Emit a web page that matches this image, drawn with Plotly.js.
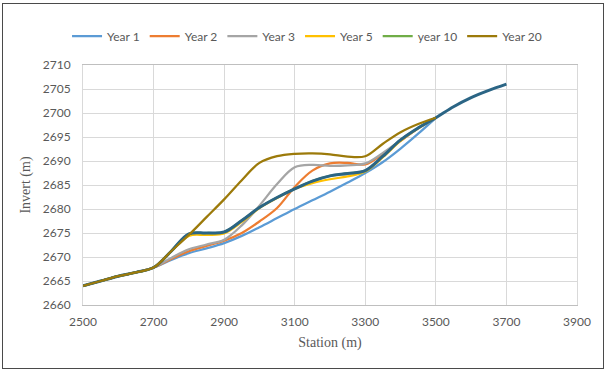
<!DOCTYPE html>
<html>
<head>
<meta charset="utf-8">
<script src="https://cdn.plot.ly/plotly-3.0.1.min.js"></script>
<style>
  html, body { margin: 0; padding: 0; background: #fff; }
  #frame { position: absolute; left: 2px; top: 3px; width: 600px; height: 364px; border: 1.5px solid #4a4a4a; }
  #chart { position: absolute; left: 0; top: 0; width: 608px; height: 372px; }
</style>
</head>
<body>
<div id="chart"></div>
<div id="frame"></div>
<script>
// Station (m)
const stations = [2500,2550,2600,2650,2700,2750,2800,2850,2900,2950,3000,3050,3100,3150,3200,3250,3300,3350,3400,3450,3500];
const stationsLong = [2500,2550,2600,2650,2700,2750,2800,2850,2900,2950,3000,3050,3100,3150,3200,3250,3300,3350,3400,3450,3500,3550,3600,3650,3700];

// Invert (m)
const year1  = [2664,2665,2666,2666.8,2667.8,2669.4,2670.8,2671.8,2672.9,2674.4,2676.2,2678.1,2680.0,2681.8,2683.6,2685.5,2687.5,2689.8,2692.6,2695.7,2699.0];
const year2  = [2664,2665,2666,2666.8,2667.8,2669.6,2671.2,2672.3,2673.4,2675.0,2677.4,2680.2,2684.6,2688.0,2689.5,2689.6,2689.3,2691.5,2694.2,2696.8,2699.0];
const year3  = [2664,2665,2666,2666.8,2667.8,2669.8,2671.6,2672.6,2673.6,2676.6,2680.7,2685.2,2688.7,2689.2,2689.0,2689.1,2689.5,2691.7,2694.3,2696.8,2699.0];
const year5  = [2664,2665,2666,2666.8,2667.8,2671.2,2674.4,2674.6,2674.9,2677.3,2680.2,2682.3,2684.2,2685.4,2686.2,2686.8,2687.8,2690.8,2694.2,2696.8,2699.0];
const year10 = [2664,2665,2666,2666.8,2667.8,2671.2,2674.8,2675.0,2675.2,2677.6,2680.3,2682.4,2684.2,2685.8,2686.9,2687.4,2688.0,2691.0,2694.4,2696.9,2699.0];
const year20 = [2664,2665,2666,2666.8,2667.8,2671.2,2674.6,2678.3,2682.0,2686.0,2689.6,2691.0,2691.5,2691.6,2691.4,2690.9,2691.0,2693.6,2696.0,2697.7,2699.0];
const existing = [2664,2665,2666,2666.8,2667.8,2671.2,2674.8,2675.0,2675.2,2677.6,2680.3,2682.4,2684.2,2685.8,2686.9,2687.4,2688.0,2691.0,2694.4,2696.9,2699.0,2701.3,2703.2,2704.7,2706.0];

const xTicks = [2500,2700,2900,3100,3300,3500,3700,3900];
const yTicks = [2660,2665,2670,2675,2680,2685,2690,2695,2700,2705,2710];

function tr(name, x, y, color, width, showlegend) {
  return { type: 'scatter', mode: 'lines', name: name, x: x, y: y,
    line: { color: color, width: width, shape: 'spline', smoothing: 1 },
    showlegend: showlegend, hoverinfo: 'skip' };
}

const data = [
  tr('Year 1', stations, year1, '#5B9BD5', 2.25, true),
  tr('Year 2', stations, year2, '#ED7D31', 2.25, true),
  tr('Year 3', stations, year3, '#A5A5A5', 2.25, true),
  tr('Year 5', stations, year5, '#FFC000', 2.25, true),
  tr('year 10', stations, year10, '#70AD47', 2.25, true),
  tr('Existing', stationsLong, existing, '#2B6585', 3, false),
  tr('Year 20', stations, year20, '#9C7A0A', 2.25, true)
];

const tickFont = { family: 'Lato, sans-serif', size: 12, color: '#595959' };
const titleFont = { family: '"Liberation Serif", "Times New Roman", serif', size: 14, color: '#595959' };

const layout = {
  width: 608, height: 372,
  margin: { l: 83, r: 31, t: 65, b: 67, pad: 0 },
  paper_bgcolor: '#ffffff', plot_bgcolor: '#ffffff',
  showlegend: true,
  legend: {
    orientation: 'h', xref: 'container', yref: 'container',
    x: 0.505, xanchor: 'center', y: 0.903, yanchor: 'middle',
    font: tickFont, itemwidth: 30, traceorder: 'normal',
    bgcolor: 'rgba(0,0,0,0)'
  },
  xaxis: {
    range: [2500, 3900], tickvals: xTicks, ticktext: xTicks.map(String),
    showgrid: true, gridcolor: '#D9D9D9', gridwidth: 1,
    showline: true, linecolor: '#BFBFBF', linewidth: 1, mirror: true,
    zeroline: false, ticks: '', tickfont: tickFont, ticklabelstandoff: 6,
    title: { text: 'Station (m)', font: titleFont, standoff: 8 }
  },
  yaxis: {
    range: [2660, 2710], tickvals: yTicks, ticktext: yTicks.map(String),
    showgrid: true, gridcolor: '#D9D9D9', gridwidth: 1,
    showline: true, linecolor: '#D9D9D9', linewidth: 1, mirror: true,
    zeroline: false, ticks: '', tickfont: tickFont, ticklabelstandoff: 9,
    title: { text: 'Invert (m)', font: titleFont, standoff: 8 }
  }
};

Plotly.newPlot('chart', data, layout, { displayModeBar: false, staticPlot: true });
</script>
</body>
</html>
